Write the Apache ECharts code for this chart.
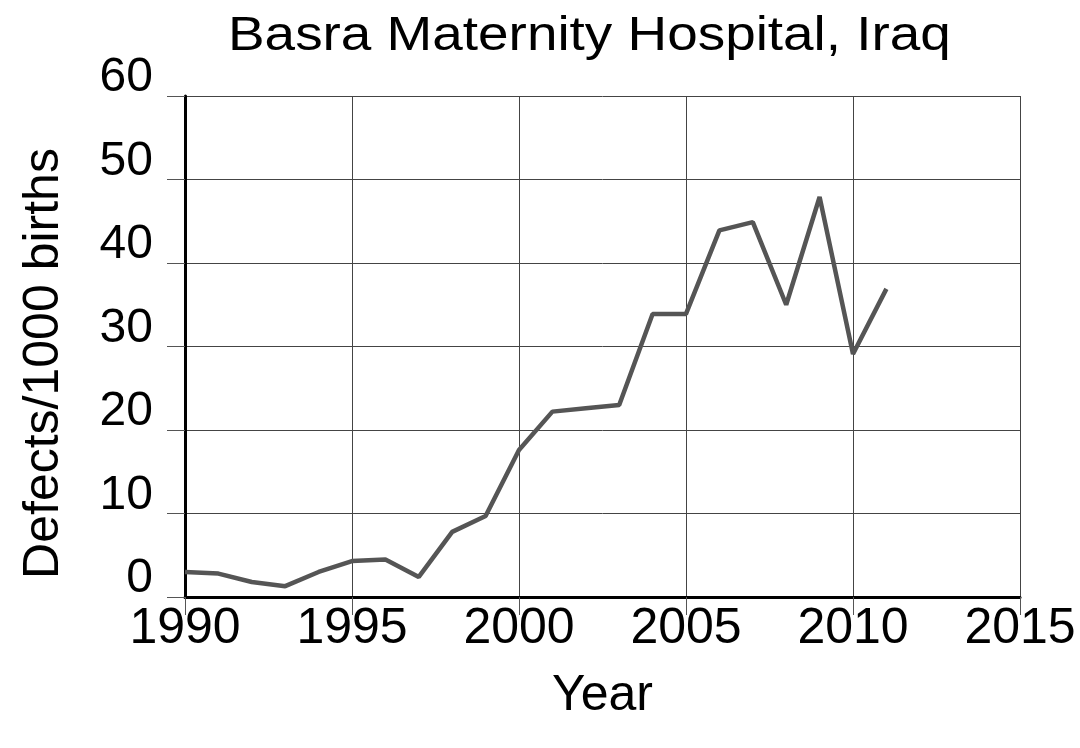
<!DOCTYPE html>
<html>
<head>
<meta charset="utf-8">
<script src="https://cdn.jsdelivr.net/npm/echarts@6/dist/echarts.min.js"></script>
<style>html,body{margin:0;padding:0;background:#fff;}#c{width:1080px;height:748px;}</style>
</head>
<body>
<div id="c"></div>
<script>
const years = [1990,1991,1992,1993,1994,1995,1996,1997,1998,1999,2000,2001,2002,2003,2004,2005,2006,2007,2008,2009,2010,2011];
const defects = [3.0,2.8,1.8,1.3,3.0,4.3,4.5,2.4,7.8,9.7,17.6,22.2,22.6,23.0,33.9,33.9,43.9,44.9,35.0,47.9,29.1,36.9];
const titleText = 'Basra Maternity Hospital, Iraq';
const xName = 'Year';
const yName = 'Defects/1000 births';

const chart = echarts.init(document.getElementById('c'), null, {renderer:'canvas'});
const font = 'Liberation Sans, Arial, sans-serif';
chart.setOption({
  animation:false,
  backgroundColor:'#fff',
  graphic:[{type:'text',x:228,y:36,scaleX:1.12,scaleY:1,
    style:{text:titleText,x:0,y:0,align:'left',verticalAlign:'middle',fontFamily:font,fontSize:49,fill:'#000'}}],
  grid:{left:185,right:60,top:96,bottom:151,containLabel:false},
  xAxis:{type:'value',min:1990,max:2015,interval:5,
    name:xName,nameLocation:'middle',nameGap:74,
    nameTextStyle:{fontFamily:font,fontSize:50,color:'#000'},
    axisLine:{show:true,onZero:false,lineStyle:{color:'#000',width:3}},
    axisTick:{show:true,length:18,lineStyle:{color:'#555',width:1}},
    axisLabel:{fontFamily:font,fontSize:50,color:'#000',margin:8,lineHeight:48,formatter:v=>String(v)},
    splitLine:{show:true,lineStyle:{color:'#444',width:1}}
  },
  yAxis:{type:'value',min:0,max:60,interval:10,
    name:yName,nameLocation:'middle',nameGap:116,nameRotate:90,
    nameTextStyle:{fontFamily:font,fontSize:50,color:'#000',padding:[0,34,0,0]},
    axisLine:{show:true,lineStyle:{color:'#000',width:3}},
    axisTick:{show:true,length:18,lineStyle:{color:'#555',width:1}},
    axisLabel:{fontFamily:font,fontSize:48,color:'#000',margin:32,verticalAlign:'bottom',lineHeight:36},
    splitLine:{show:true,lineStyle:{color:'#444',width:1}}
  },
  series:[{type:'line',data:years.map((y,i)=>[y,defects[i]]),showSymbol:false,symbol:'none',
    lineStyle:{color:'#555',width:4.5},z:5}]
});
</script>
</body>
</html>
